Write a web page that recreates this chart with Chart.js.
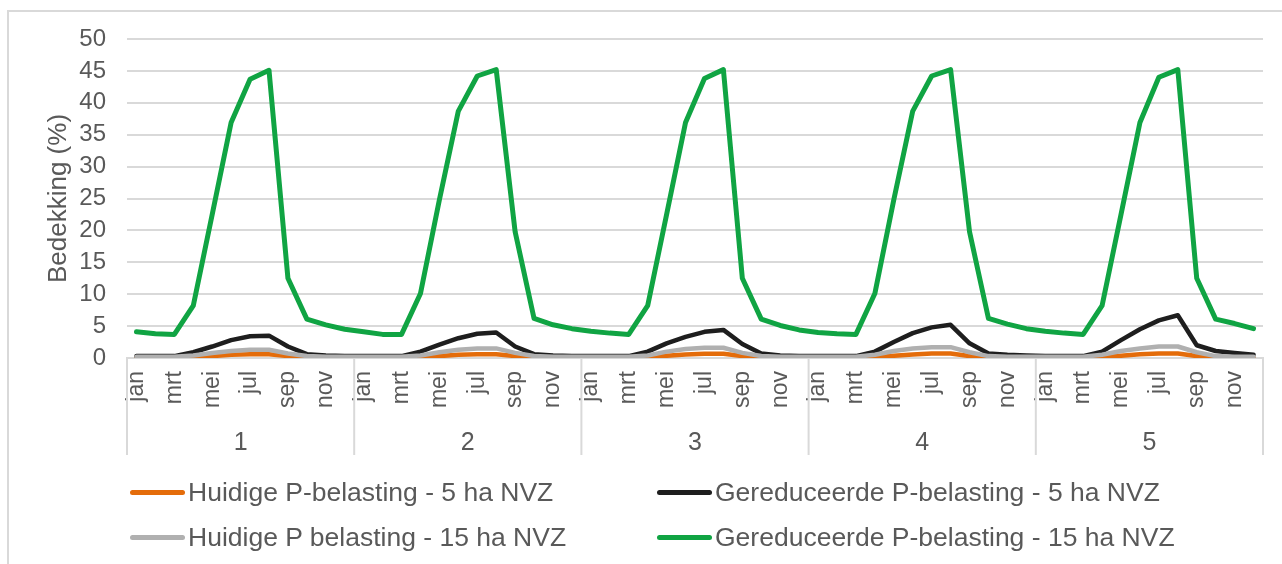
<!DOCTYPE html>
<html>
<head>
<meta charset="utf-8">
<script src="https://cdn.jsdelivr.net/npm/chart.js@4"></script>
<style>
  body { margin: 0; background: #fff; }
  #wrap { position: relative; width: 1282px; height: 564px; overflow: hidden; font-family: "Liberation Sans", Arial, sans-serif; }
  #frame { position: absolute; left: 7px; top: 10px; right: -5px; bottom: -5px; border-left: 2px solid #d9d9d9; border-top: 2px solid #d9d9d9; }
  #chart { position: absolute; left: 0; top: 0; }
  .item { position: absolute; display: flex; align-items: center; color: #595959; font-size: 26.5px; white-space: nowrap; line-height: 30px; }
  .item span.line { display: inline-block; width: 55px; height: 5px; border-radius: 3px; margin-right: 3px; }
</style>
</head>
<body>
<div id="wrap">
  <div id="frame"></div>
  <canvas id="chart" width="1282" height="564"></canvas>
  <div id="legend"></div>
</div>
<script>
const months = ['jan', 'feb', 'mrt', 'apr', 'mei', 'jun', 'jul', 'aug', 'sep', 'okt', 'nov', 'dec'];
const years = ['1', '2', '3', '4', '5'];
const yTicks = [0, 5, 10, 15, 20, 25, 30, 35, 40, 45, 50];

// Huidige P-belasting - 5 ha NVZ
const huidig5 = [
  0.05, 0.05, 0.05, 0.1, 0.3, 0.5, 0.6, 0.6, 0.3, 0.1, 0.05, 0.05,
  0.05, 0.05, 0.05, 0.1, 0.3, 0.5, 0.6, 0.6, 0.3, 0.1, 0.05, 0.05,
  0.05, 0.05, 0.05, 0.1, 0.35, 0.55, 0.65, 0.65, 0.3, 0.1, 0.05, 0.05,
  0.05, 0.05, 0.05, 0.1, 0.35, 0.55, 0.7, 0.7, 0.3, 0.1, 0.05, 0.05,
  0.05, 0.05, 0.05, 0.1, 0.35, 0.6, 0.7, 0.7, 0.3, 0.1, 0.05, 0.05
];
// Gereduceerde P-belasting - 5 ha NVZ
const gered5 = [
  0.3, 0.3, 0.3, 0.9, 1.8, 2.8, 3.4, 3.5, 1.8, 0.6, 0.4, 0.3,
  0.3, 0.3, 0.3, 1.0, 2.1, 3.1, 3.8, 4.0, 1.8, 0.6, 0.4, 0.3,
  0.3, 0.3, 0.3, 1.0, 2.3, 3.3, 4.1, 4.4, 2.2, 0.7, 0.4, 0.3,
  0.3, 0.3, 0.3, 1.0, 2.5, 3.9, 4.8, 5.2, 2.3, 0.7, 0.5, 0.4,
  0.3, 0.3, 0.3, 1.0, 2.8, 4.5, 5.9, 6.7, 2.0, 1.1, 0.8, 0.5
];
// Huidige P belasting - 15 ha NVZ
const huidig15 = [
  0.2, 0.2, 0.2, 0.4, 0.8, 1.1, 1.3, 1.3, 0.7, 0.3, 0.2, 0.2,
  0.2, 0.2, 0.2, 0.4, 0.9, 1.3, 1.5, 1.5, 0.8, 0.3, 0.2, 0.2,
  0.2, 0.2, 0.2, 0.4, 1.0, 1.4, 1.6, 1.6, 0.8, 0.3, 0.2, 0.2,
  0.2, 0.2, 0.2, 0.5, 1.1, 1.5, 1.7, 1.7, 0.9, 0.3, 0.2, 0.2,
  0.2, 0.2, 0.2, 0.5, 1.1, 1.5, 1.8, 1.8, 0.9, 0.3, 0.2, 0.2
];
// Gereduceerde P-belasting - 15 ha NVZ
const gered15 = [
  4.1, 3.8, 3.7, 8.2, 22.5, 36.9, 43.7, 45.1, 12.5, 6.1, 5.2, 4.5,
  4.1, 3.7, 3.7, 10.1, 24.8, 38.7, 44.2, 45.2, 19.8, 6.2, 5.2, 4.6,
  4.2, 3.9, 3.7, 8.2, 22.5, 36.9, 43.8, 45.2, 12.5, 6.1, 5.1, 4.4,
  4.0, 3.8, 3.7, 10.1, 24.8, 38.7, 44.2, 45.2, 19.8, 6.2, 5.3, 4.6,
  4.2, 3.9, 3.7, 8.2, 22.5, 36.9, 44.0, 45.2, 12.5, 6.1, 5.4, 4.6
];

const series = [
  { label: 'Huidige P-belasting - 5 ha NVZ', data: huidig5, color: '#E46C0A', order: 4 },
  { label: 'Gereduceerde P-belasting - 5 ha NVZ', data: gered5, color: '#1E1E1E', order: 3 },
  { label: 'Huidige P belasting - 15 ha NVZ', data: huidig15, color: '#B0B0B0', order: 2 },
  { label: 'Gereduceerde P-belasting - 15 ha NVZ', data: gered15, color: '#10A443', order: 1 }
];

const labels = years.flatMap(() => months);
const textColor = '#595959';
const gridColor = '#d9d9d9';
const fontFamily = '"Liberation Sans", Arial, sans-serif';

// year groups below the month labels, with separators
const yearAxis = {
  id: 'yearAxis',
  afterDraw(chart) {
    const x = chart.scales.x;
    const ctx = chart.ctx;
    const half = (x.getPixelForValue(1) - x.getPixelForValue(0)) / 2;
    const top = chart.chartArea.bottom;
    ctx.save();
    ctx.strokeStyle = gridColor;
    ctx.lineWidth = 2;
    for (let g = 0; g <= years.length; g++) {
      const px = g < years.length ? x.getPixelForValue(g * months.length) - half : x.right;
      ctx.beginPath();
      ctx.moveTo(px, top);
      ctx.lineTo(px, top + 97);
      ctx.stroke();
    }
    ctx.fillStyle = textColor;
    ctx.font = '25px ' + fontFamily;
    ctx.textAlign = 'center';
    ctx.textBaseline = 'middle';
    years.forEach((y, g) => {
      const a = x.getPixelForValue(g * months.length) - half;
      const b = x.getPixelForValue((g + 1) * months.length - 1) + half;
      ctx.fillText(y, (a + b) / 2, top + 85);
    });
    ctx.restore();
  }
};

new Chart(document.getElementById('chart').getContext('2d'), {
  type: 'line',
  data: {
    labels: labels,
    datasets: series.map(s => ({
      label: s.label,
      data: s.data,
      borderColor: s.color,
      backgroundColor: s.color,
      borderWidth: s.order === 1 ? 5 : 4.5,
      pointRadius: 0,
      tension: 0,
      borderJoinStyle: 'round',
      borderCapStyle: 'round',
      order: s.order
    }))
  },
  options: {
    responsive: false,
    animation: false,
    layout: { padding: { left: 0, right: 19, top: 39, bottom: 106 } },
    plugins: {
      legend: { display: false },
      tooltip: { enabled: false }
    },
    scales: {
      x: {
        type: 'category',
        offset: true,
        grid: { display: false, drawTicks: false },
        border: { display: true, color: gridColor, width: 2 },
        ticks: {
          autoSkip: false,
          maxRotation: 90,
          minRotation: 90,
          padding: 13,
          color: textColor,
          font: { family: fontFamily, size: 23 },
          callback: function (v, i) { return i % 2 === 0 ? this.getLabelForValue(v) : ''; }
        },
        afterFit: s => { s.height = 100; s.paddingLeft = 0; s.paddingRight = 0; }
      },
      y: {
        min: 0,
        max: 50,
        afterBuildTicks: s => { s.ticks = yTicks.map(v => ({ value: v })); },
        grid: { color: gridColor, lineWidth: 2, drawTicks: false },
        border: { display: false },
        ticks: { padding: 21, color: textColor, font: { family: fontFamily, size: 24 } },
        title: {
          display: true,
          text: 'Bedekking (%)',
          color: textColor,
          font: { family: fontFamily, size: 26 },
          padding: { top: 43, bottom: 0 }
        },
        afterFit: s => { s.width = 127; }
      }
    }
  },
  plugins: [yearAxis]
});

// legend: two columns, same order as the reference
const legendPos = [[130, 492], [657, 492], [130, 537], [657, 537]];
const legend = document.getElementById('legend');
series.forEach((s, i) => {
  const item = document.createElement('div');
  item.className = 'item';
  item.style.left = legendPos[i][0] + 'px';
  item.style.top = (legendPos[i][1] - 15) + 'px';
  item.innerHTML = '<span class="line" style="background:' + s.color + '"></span>' + s.label;
  legend.appendChild(item);
});
</script>
</body>
</html>
